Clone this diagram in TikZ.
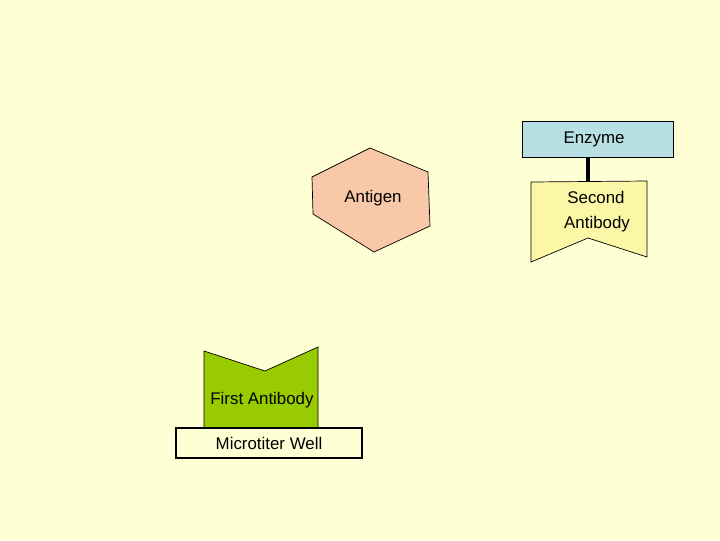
\documentclass[tikz,border=0pt]{standalone}
\usepackage{fontspec}
\setmainfont{Liberation Sans}
\definecolor{bgyellow}{HTML}{FFFFD5}
\definecolor{antigenfill}{HTML}{F8C8A8}
\definecolor{enzymefill}{HTML}{B8DFE3}
\definecolor{secondfill}{HTML}{FBF7A6}
\definecolor{firstfill}{HTML}{99CC00}
\tikzset{
  label text/.style={font=\fontsize{12}{14}\selectfont, inner sep=1pt},
  shape line/.style={black, line width=0.5pt}
}
\begin{document}
\begin{tikzpicture}[x=0.025cm,y=-0.025cm]
  \fill [bgyellow] (0,0) rectangle (720,540);
  \useasboundingbox (0,0) rectangle (720,540);
  % antigen
  \filldraw [shape line,fill=antigenfill] (370,148) -- (428,172) -- (430,226) -- (374,252) -- (313,214) -- (312,177) -- cycle;
  \node [label text] (antigen) at (373,198) {Antigen};
  % enzyme and second antibody
  \filldraw [shape line,fill=enzymefill] (522,121) rectangle (673,157);
  \node [label text] (enzyme) at (594,139) {Enzyme};
  \filldraw [shape line,fill=secondfill] (531,182) -- (647,181) -- (647,257) -- (588,238) -- (531,262) -- cycle;
  \node [label text] (second) at (596,197) {Second};
  \node [label text] (secondb) at (597,224) {Antibody};
  \coordinate (stemtop) at (588,157);
  \coordinate (stembot) at (588,182);
  \draw [line width=2.5pt] (stemtop) -- (stembot);
  % first antibody on the well
  \filldraw [shape line,fill=firstfill] (204,351) -- (265,371) -- (318,347) -- (318,428) -- (204,428) -- cycle;
  \node [label text] (first) at (262,400) {First Antibody};
  \draw [black,line width=2pt] (176,428) rectangle (362,458);
  \node [label text] (well) at (269,443) {Microtiter Well};
\end{tikzpicture}
\end{document}
